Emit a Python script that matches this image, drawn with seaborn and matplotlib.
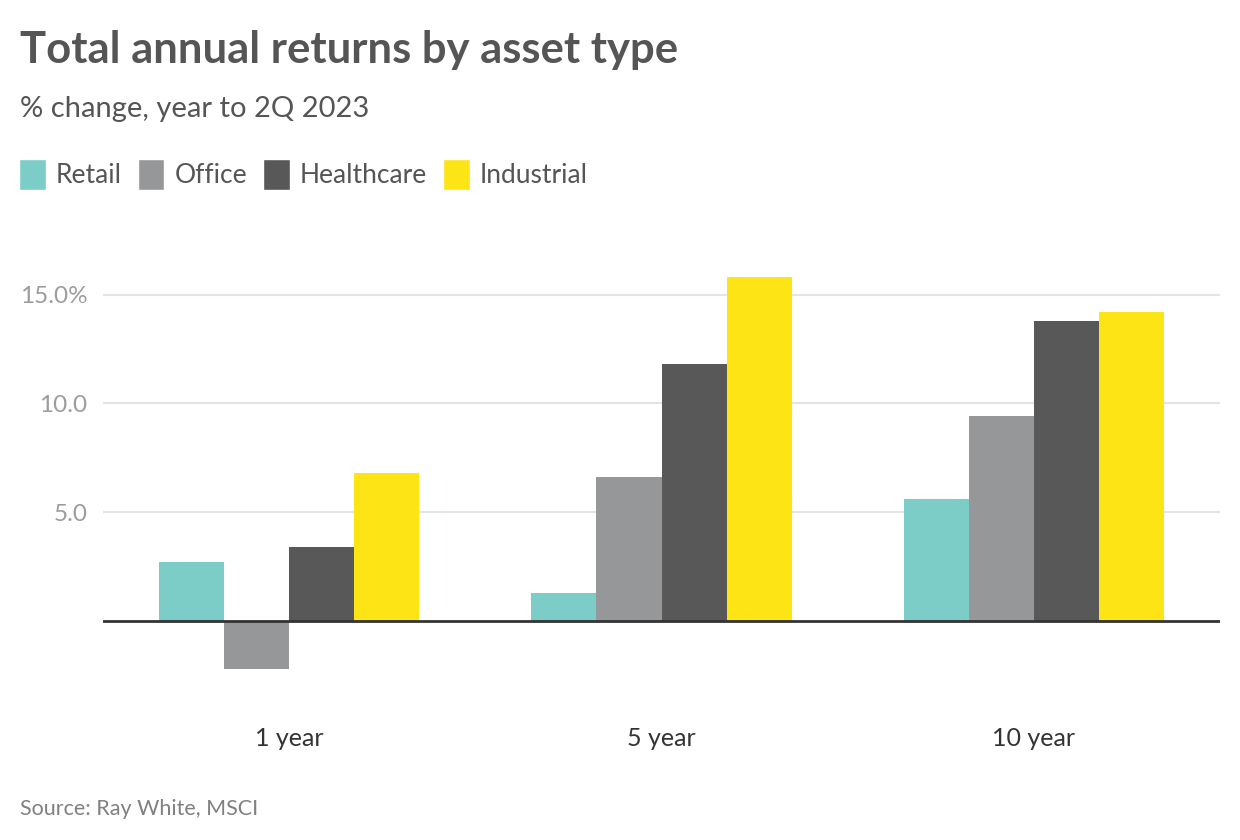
import pandas as pd
import matplotlib.pyplot as plt
import seaborn as sns
from matplotlib.patches import Patch

periods = ['1 year', '5 year', '10 year']
assets = ['Retail', 'Office', 'Healthcare', 'Industrial']
retail = [2.7, 1.3, 5.6]
office = [-2.2, 6.6, 9.4]
healthcare = [3.4, 11.8, 13.8]
industrial = [6.8, 15.8, 14.2]
colours = {'Retail': '#7ccdc8', 'Office': '#969799', 'Healthcare': '#585858', 'Industrial': '#fde414'}

def build(periods):
    rows = []
    for name, vals in zip(assets, [retail, office, healthcare, industrial]):
        for p, v in zip(periods, vals):
            rows.append({'period': p, 'asset': name, 'value': v})
    return pd.DataFrame(rows)

if __name__ == '__main__':
    sns.set_style('white')
    plt.rcParams['font.family'] = ['Lato', 'DejaVu Sans']
    df = build(periods)

    fig = plt.figure(figsize=(12.4, 8.4), dpi=100)
    ax = fig.add_axes([0.083, 0.144, 0.901, 0.596])
    sns.barplot(data=df, x='period', y='value', hue='asset', order=periods, hue_order=assets,
                palette=colours, width=0.7, gap=0, saturation=1, legend=False, ax=ax, errorbar=None,
                linewidth=0)
    ax.set_xlim(-0.5, 2.5)
    ax.set_ylim(-4.5, 18.5)
    ax.set_yticks([5, 10, 15])
    ax.set_yticklabels(['5.0', '10.0', '15.0%'])
    ax.yaxis.grid(True, color='#e4e4e4', lw=1.5)
    ax.set_axisbelow(True)
    ax.axhline(0, color='#333333', lw=2)
    for s in ax.spines.values():
        s.set_visible(False)
    ax.tick_params(axis='y', length=0, pad=11, labelsize=17.5, labelcolor='#9c9c9c')
    ax.tick_params(axis='x', length=0, pad=6, labelsize=18, labelcolor='#333333')
    ax.set_xlabel('')
    ax.set_ylabel('')

    fig.text(0.016, 0.925, 'Total annual returns by asset type', fontsize=31.4, fontweight='bold',
             color='#555555', va='baseline')
    fig.text(0.016, 0.861, '% change, year to 2Q 2023', fontsize=21, color='#555555', va='baseline')
    fig.text(0.016, 0.030, 'Source: Ray White, MSCI', fontsize=15.5, color='#808080', va='baseline')

    handles = [Patch(facecolor=colours[a], label=a) for a in assets]
    fig.legend(handles=handles, loc='center left', bbox_to_anchor=(0.0155, 0.792), ncol=4, frameon=False,
               fontsize=19, handlelength=1.0, handleheight=1.45, handletextpad=0.38, columnspacing=0.62,
               borderpad=0, borderaxespad=0, labelcolor='#555555')

    fig.savefig('out.png', dpi=100)
